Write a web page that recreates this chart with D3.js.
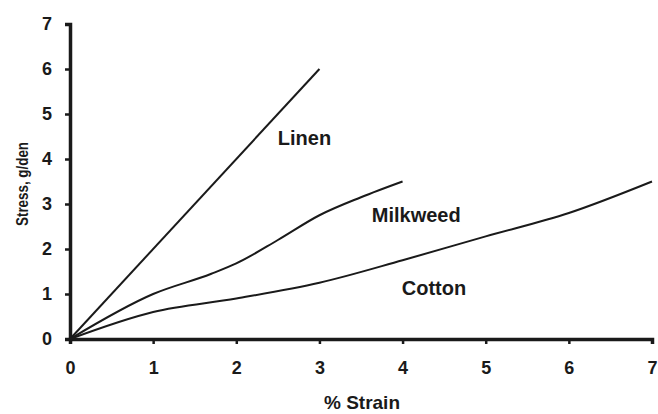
<!DOCTYPE html>
<html>
<head>
<meta charset="utf-8">
<script src="https://cdn.jsdelivr.net/npm/d3@7"></script>
<style>
  body { margin: 0; background: #fff; }
  text { font-family: "Liberation Sans", Arial, sans-serif; font-weight: bold; fill: #1a1a1a; }
</style>
</head>
<body>
<div id="chart"></div>
<script>
// values
var xTicks = [0, 1, 2, 3, 4, 5, 6, 7];
var yTicks = [0, 1, 2, 3, 4, 5, 6, 7];

var linenStrain = [0, 3];
var linenStress = [0, 6];

var milkweedStrain = [0, 1, 1.7, 2, 2.5, 3, 3.5, 4];
var milkweedStress = [0, 1.0, 1.45, 1.68, 2.2, 2.75, 3.15, 3.5];

var cottonStrain = [0, 1, 2, 3, 4, 5, 6, 7];
var cottonStress = [0, 0.6, 0.9, 1.25, 1.75, 2.28, 2.8, 3.5];

var seriesNames = ['Linen', 'Milkweed', 'Cotton'];
// label anchor points in data units
var labelX = [2.5, 3.63, 3.99];
var labelY = [4.31, 2.6, 0.98];

var width = 658, height = 414;

var svg = d3.select('#chart')
            .append('svg')
            .attr('width', width)
            .attr('height', height);

var x = d3.scaleLinear().domain([0, 7]).range([70, 652]);
var y = d3.scaleLinear().domain([0, 7]).range([339, 24]);

// axes
var xAxis = svg.append('g')
               .attr('transform', 'translate(0,' + y(0) + ')')
               .call(d3.axisBottom(x).tickValues(xTicks).tickFormat(d3.format('d'))
                       .tickSize(5).tickPadding(17));

var yAxis = svg.append('g')
               .attr('transform', 'translate(' + x(0) + ',0)')
               .call(d3.axisLeft(y).tickValues(yTicks).tickFormat(d3.format('d'))
                       .tickSize(5).tickPadding(13));

[xAxis, yAxis].forEach(function(a) {
  a.select('.domain').attr('stroke', '#1a1a1a').attr('stroke-width', 3.5);
  a.selectAll('.tick line').attr('stroke', '#1a1a1a').attr('stroke-width', 2.5);
  a.selectAll('.tick text')
   .style('font-size', '18px')
   .style('font-family', '"Liberation Sans", Arial, sans-serif')
   .style('font-weight', 'bold')
   .attr('fill', '#1a1a1a');
});

// series
var line = d3.line()
             .x(function(d) { return x(d[0]); })
             .y(function(d) { return y(d[1]); })
             .curve(d3.curveMonotoneX);

var series = [
  d3.zip(linenStrain, linenStress),
  d3.zip(milkweedStrain, milkweedStress),
  d3.zip(cottonStrain, cottonStress)
];

svg.selectAll('path.series')
   .data(series)
   .enter()
   .append('path')
   .attr('class', 'series')
   .attr('d', line)
   .attr('fill', 'none')
   .attr('stroke', '#1a1a1a')
   .attr('stroke-width', 2);

// series labels
svg.selectAll('text.label')
   .data(seriesNames)
   .enter()
   .append('text')
   .attr('class', 'label')
   .attr('x', function(d, i) { return x(labelX[i]); })
   .attr('y', function(d, i) { return y(labelY[i]); })
   .style('font-size', '20px')
   .text(function(d) { return d; });

// axis titles
svg.append('text')
   .attr('x', 362)
   .attr('y', 409)
   .attr('text-anchor', 'middle')
   .style('font-size', '19px')
   .text('% Strain');

svg.append('text')
   .attr('transform', 'translate(28,184) rotate(-90)')
   .attr('text-anchor', 'middle')
   .attr('textLength', 84)
   .attr('lengthAdjust', 'spacingAndGlyphs')
   .style('font-size', '16px')
   .text('Stress, g/den');
</script>
</body>
</html>
